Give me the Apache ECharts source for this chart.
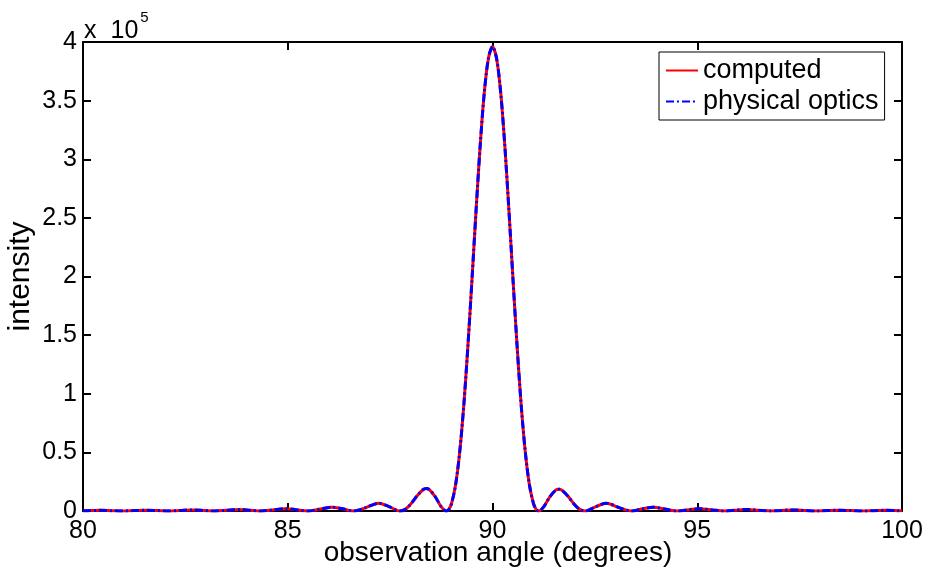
<!DOCTYPE html>
<html>
<head>
<meta charset="utf-8">
<style>html,body{margin:0;padding:0;background:#fff;}#chart{width:926px;height:573px;}</style>
<script src="https://cdn.jsdelivr.net/npm/echarts@6/dist/echarts.min.js"></script>
</head>
<body>
<div id="chart"></div>
<script>
// observation angle (degrees)
var angles = [
  80.00, 80.11, 80.41, 80.68, 80.96, 81.24, 81.54, 81.81, 82.09, 82.37, 82.67, 82.94,
  83.22, 83.50, 83.81, 84.07, 84.35, 84.63, 84.94, 85.20, 85.48, 85.76, 86.08, 86.33,
  86.61, 86.89, 87.22, 87.46, 87.74, 87.87, 88.00, 88.15, 88.30, 88.38, 88.45, 88.60,
  88.75, 88.87, 88.93, 89.00, 89.10, 89.20, 89.30, 89.40, 89.50, 89.60, 89.70, 89.80,
  89.90, 90.00,
  90.10, 90.20, 90.30, 90.40, 90.50, 90.60, 90.70, 90.80, 90.90, 91.00, 91.07, 91.13,
  91.25, 91.40, 91.55, 91.62, 91.70, 91.85, 92.00, 92.13, 92.26, 92.54, 92.78, 93.11,
  93.39, 93.67, 93.92, 94.24, 94.52, 94.80, 95.06, 95.37, 95.65, 95.93, 96.19, 96.50,
  96.78, 97.06, 97.33, 97.63, 97.91, 98.19, 98.46, 98.76, 99.04, 99.32, 99.59, 99.89,
  100.00
];
// intensity, in units of 10^5
var computed = [
  0.0011, 0.0026, 0.0056, 0.0029, 0, 0.0033, 0.0072, 0.0038, 0, 0.0044, 0.0095, 0.0051,
  0, 0.0061, 0.0134, 0.0073, 0, 0.0089, 0.0199, 0.0111, 0, 0.0143, 0.0330, 0.0190,
  0, 0.0265, 0.0665, 0.0396, 0, 0.014, 0.057, 0.126, 0.181, 0.192, 0.185, 0.123,
  0.035, 0, 0.012, 0.064, 0.226, 0.506, 0.906, 1.41, 1.98, 2.57, 3.12, 3.57,
  3.86, 3.96,
  3.86, 3.57, 3.12, 2.57, 1.98, 1.41, 0.906, 0.506, 0.226, 0.064, 0.012, 0,
  0.035, 0.121, 0.180, 0.186, 0.176, 0.123, 0.056, 0.014, 0, 0.0396, 0.0652, 0.0265,
  0, 0.0190, 0.0330, 0.0143, 0, 0.0111, 0.0199, 0.0089, 0, 0.0073, 0.0134, 0.0061,
  0, 0.0051, 0.0095, 0.0044, 0, 0.0038, 0.0072, 0.0033, 0, 0.0029, 0.0056, 0.0026,
  0.0011
];
var physicalOptics = computed.slice();
var xTicks = [80, 85, 90, 95, 100];
var yTicks = [0, 0.5, 1, 1.5, 2, 2.5, 3, 3.5, 4];
var seriesNames = ['computed', 'physical optics'];

var FONT = '"Liberation Sans", Arial, Helvetica, sans-serif';
function pairs(xs, ys) { return xs.map(function (x, i) { return [x, ys[i]]; }); }

var chart = echarts.init(document.getElementById('chart'), null, { renderer: 'canvas' });
var axisLine = { show: true, onZero: false, lineStyle: { color: '#000', width: 2 } };
var axisTick = { show: true, inside: true, length: 8, lineStyle: { color: '#000', width: 2 } };
chart.setOption({
  animation: false,
  backgroundColor: '#fff',
  title: {
    text: '{x|x}{a|10}{b|5}',
    left: 79, top: 5,
    textStyle: {
      fontWeight: 'normal',
      rich: {
        x: { fontSize: 25, fontWeight: 'normal', fontFamily: FONT, color: '#000', lineHeight: 34, verticalAlign: 'bottom' },
        a: { fontSize: 25, fontWeight: 'normal', fontFamily: FONT, color: '#000', lineHeight: 34, verticalAlign: 'bottom', padding: [0, 0, 0, 14] },
        b: { fontSize: 15, fontWeight: 'normal', fontFamily: FONT, color: '#000', lineHeight: 15, verticalAlign: 'top', padding: [0, 0, 0, 2] }
      }
    }
  },
  legend: {
    orient: 'vertical',
    left: 659, top: 52,
    padding: [5, 6, 5, 6],
    itemGap: 4,
    itemWidth: 32, itemHeight: 12,
    itemStyle: { opacity: 0 },
    backgroundColor: '#fff',
    borderColor: '#000', borderWidth: 1,
    textStyle: { fontSize: 27, fontFamily: FONT, color: '#000' },
    data: seriesNames
  },
  grid: { left: 83, right: 24, top: 42, bottom: 62, containLabel: false, outerBoundsMode: 'none' },
  xAxis: [
    {
      type: 'value', min: xTicks[0], max: xTicks[xTicks.length - 1], interval: 5,
      position: 'bottom',
      axisLine: axisLine, axisTick: axisTick, splitLine: { show: false },
      axisLabel: { color: '#000', fontSize: 25, fontFamily: FONT, margin: 8 },
      name: 'observation angle (degrees)', nameLocation: 'middle', nameGap: 28,
      nameMoveOverlap: false,
      nameTextStyle: { color: '#000', fontSize: 28, fontFamily: FONT, padding: [0, 0, 0, 11] }
    },
    {
      type: 'value', min: xTicks[0], max: xTicks[xTicks.length - 1], interval: 5,
      position: 'top',
      axisLine: axisLine, axisTick: axisTick, splitLine: { show: false },
      axisLabel: { show: false }
    }
  ],
  yAxis: [
    {
      type: 'value', min: yTicks[0], max: yTicks[yTicks.length - 1], interval: 0.5,
      position: 'left',
      axisLine: axisLine, axisTick: axisTick, splitLine: { show: false },
      axisLabel: { color: '#000', fontSize: 25, fontFamily: FONT, margin: 6 },
      name: 'intensity', nameLocation: 'middle', nameRotate: 90, nameGap: 47,
      nameMoveOverlap: false,
      nameTextStyle: { color: '#000', fontSize: 30, fontFamily: FONT }
    },
    {
      type: 'value', min: yTicks[0], max: yTicks[yTicks.length - 1], interval: 0.5,
      position: 'right',
      axisLine: axisLine, axisTick: axisTick, splitLine: { show: false },
      axisLabel: { show: false }
    }
  ],
  series: [
    {
      name: seriesNames[0], type: 'line', data: pairs(angles, computed),
      xAxisIndex: 0, yAxisIndex: 0,
      showSymbol: false, symbol: 'none', smooth: 0.3,
      lineStyle: { color: '#ff0000', width: 3, type: 'solid' },
      itemStyle: { color: '#ff0000' }
    },
    {
      name: seriesNames[1], type: 'line', data: pairs(angles, physicalOptics),
      xAxisIndex: 0, yAxisIndex: 0,
      showSymbol: false, symbol: 'none', smooth: 0.3,
      lineStyle: { color: '#0000ff', width: 3, type: [8, 3, 2, 3] },
      itemStyle: { color: '#0000ff' }
    }
  ]
});
</script>
</body>
</html>
